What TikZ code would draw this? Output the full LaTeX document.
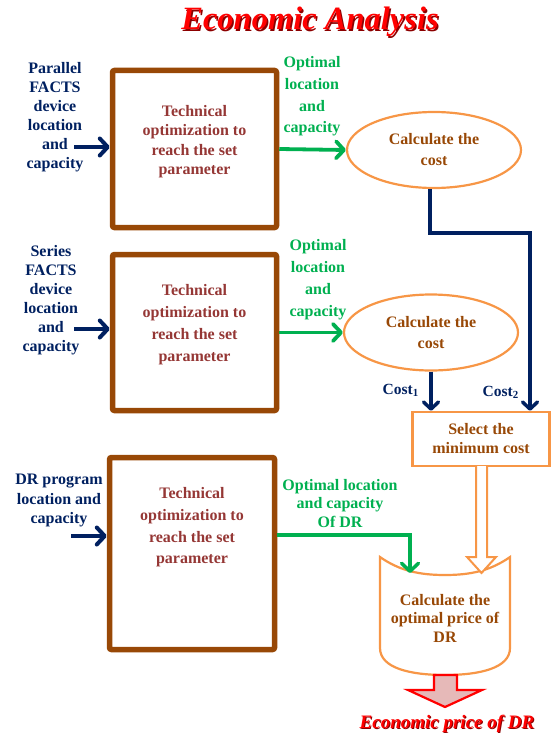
\documentclass[tikz,border=0pt]{standalone}
\usepackage{fontspec}
\setmainfont{Liberation Serif}
\usetikzlibrary{arrows.meta,shapes.geometric}
\definecolor{navy}{HTML}{002060}
\definecolor{boxbrown}{HTML}{984806}
\definecolor{boxtext}{HTML}{953735}
\definecolor{orng}{HTML}{F79646}
\definecolor{grn}{HTML}{00B050}
\definecolor{pinkfill}{HTML}{E6B9B8}
\begin{document}
\begin{tikzpicture}[x=1pt,y=-1pt,
  techbox/.style={draw=boxbrown, line width=5.5pt, rounded corners=2pt, minimum width=164pt, inner sep=0pt},
  techtext/.style={text=boxtext, align=center, inner sep=0pt},
  navylab/.style={text=navy, align=center, inner sep=0pt},
  grnlab/.style={text=grn, align=center, inner sep=0pt},
  costell/.style={ellipse, draw=orng, line width=2.2pt, minimum width=174pt, minimum height=76pt, text=boxbrown, align=center, inner sep=0pt, font=\fontsize{16}{21}\selectfont\bfseries},
  navyarr/.style={draw=navy, line width=4pt, -{Straight Barb[length=8pt,width=17pt,line cap=round,line join=round]}},
  grnarr/.style={draw=grn, line width=3.8pt, -{Straight Barb[length=8pt,width=17pt,line cap=round,line join=round]}},
  costarr/.style={draw=navy, line width=3.5pt, -{Straight Barb[length=7pt,width=15pt,line cap=round,line join=round]}},
]
\useasboundingbox (0,0) rectangle (551,733);

% title
\node[text=red!55!black, font=\fontsize{32.5}{32.5}\selectfont\bfseries\itshape] (titlesh) at (311.5,23.5) {Economic Analysis};
\node[text=red, font=\fontsize{32.5}{32.5}\selectfont\bfseries\itshape] (title) at (310,22) {Economic Analysis};

% technical boxes
\node[techbox, minimum height=157pt] (box1) at (194.5,149) {};
\node[techbox, minimum height=156pt] (box2) at (194.5,332.5) {};
\node[techbox, minimum width=165pt, minimum height=192pt] (box3) at (192,553.5) {};
\node[techtext, font=\fontsize{16}{19.5}\selectfont\bfseries] (t1) at (194.5,141.5) {Technical\\optimization to\\reach the set\\parameter};
\node[techtext, font=\fontsize{16}{22}\selectfont\bfseries] (t2) at (194.5,325) {Technical\\optimization to\\reach the set\\parameter};
\node[techtext, font=\fontsize{16}{21.7}\selectfont\bfseries] (t3) at (192,527.5) {Technical\\optimization to\\reach the set\\parameter};

% input labels
\node[navylab, font=\fontsize{16}{19}\selectfont\bfseries] (in1) at (55,117.5) {Parallel\\FACTS\\device\\location\\and\\capacity};
\node[navylab, font=\fontsize{16}{19}\selectfont\bfseries] (in2) at (51,300.5) {Series\\FACTS\\device\\location\\and\\capacity};
\node[navylab, font=\fontsize{16}{19.5}\selectfont\bfseries] (in3) at (59,500.5) {DR program\\location and\\capacity};
\coordinate (a1) at (74,147);
\coordinate (a2) at (74,329);
\coordinate (a3) at (71,536);
\draw[navyarr] (a1) -- (box1.west |- a1);
\draw[navyarr] (a2) -- (box2.west |- a2);
\draw[navyarr] (a3) -- (box3.west |- a3);

% ellipses
\node[costell] (ell1) at (434,150) {Calculate the\\cost};
\node[costell] (ell2) at (431,332.5) {Calculate the\\cost};

% green labels
\node[grnlab, font=\fontsize{16}{21.7}\selectfont\bfseries] (g1) at (312,96.5) {Optimal\\location\\and\\capacity};
\node[grnlab, font=\fontsize{16}{22}\selectfont\bfseries] (g2) at (318,280) {Optimal\\location\\and\\capacity};
\node[grnlab, font=\fontsize{16}{18.5}\selectfont\bfseries] (g3) at (340,503.5) {Optimal location\\and capacity\\Of DR};
\draw[grnarr] (box1.east) -- (ell1.west);
\draw[grnarr] (box2.east) -- (ell2.west);

% select box
\node[draw=orng, line width=2.5pt, minimum width=137pt, minimum height=54pt, text=boxbrown, align=center, inner sep=0pt, font=\fontsize{16}{19}\selectfont\bfseries] (sel) at (481,439) {Select the\\minimum cost};

% cost connectors
\coordinate (c2) at (530,233);
\draw[costarr] ([xshift=-4pt]ell1.south) |- (c2) -- (c2 |- sel.north);
\draw[costarr] (ell2.south) -- (ell2.south |- sel.north);
\node[text=navy, anchor=east, inner sep=0pt, font=\fontsize{15.5}{15.5}\selectfont\bfseries] (cost1) at (419,390) {Cost\textsubscript{1}};
\node[text=navy, anchor=east, inner sep=0pt, font=\fontsize{15.5}{15.5}\selectfont\bfseries] (cost2) at (519,392) {Cost\textsubscript{2}};

% cylinder
\draw[orng, line width=2.2pt, fill=white] (380,557) .. controls (400,571) and (420,575) .. (445,575) .. controls (470,575) and (490,571) .. (510,557) -- (510,648) .. controls (510,668) and (480,675) .. (445,675) .. controls (410,675) and (380,668) .. (380,648) -- cycle;
\node[text=boxbrown, align=center, inner sep=0pt, font=\fontsize{16}{18.5}\selectfont\bfseries] (cyl) at (445,618) {Calculate the\\optimal price of\\DR};
\coordinate (cyltop) at (410,573);

% green DR arrow
\coordinate (g3c) at (410,535);
\draw[grnarr, line width=3.5pt] (box3.east |- g3c) -- (g3c) -- (cyltop);

% hollow orange arrow
\draw[orng, line width=2pt, fill=white] (476,466) -- (476,557) -- (467,557) -- (481.5,573) -- (496,557) -- (487,557) -- (487,466);

% red output arrow
\draw[red, line width=2.2pt, fill=pinkfill, line join=miter] (434,675) -- (434,690) -- (408,690) -- (445,707) -- (482,690) -- (457,690) -- (457,675) -- cycle;
\node[text=red!55!black, font=\fontsize{19}{19}\selectfont\bfseries\itshape] (outsh) at (448,725) {Economic price of DR};
\node[text=red, font=\fontsize{19}{19}\selectfont\bfseries\itshape] (out) at (447,724) {Economic price of DR};
\end{tikzpicture}
\end{document}
